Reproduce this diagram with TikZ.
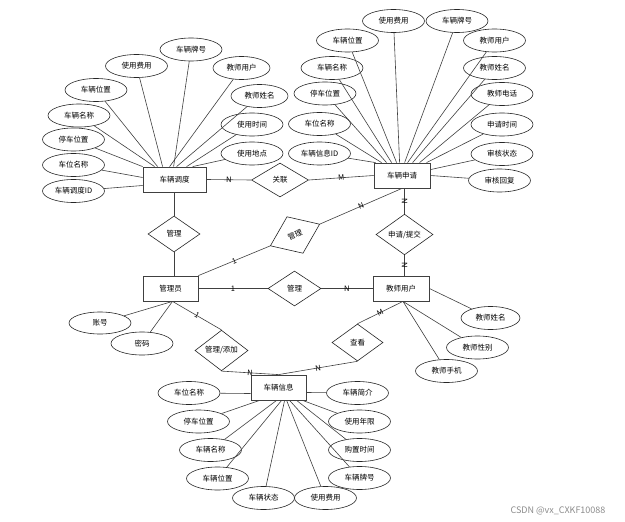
\documentclass[tikz,border=0pt]{standalone}
\usepackage{fontspec}
\newfontfamily\cjk{Noto Sans CJK SC}
\usetikzlibrary{shapes.geometric,calc,shadows}
\begin{document}
\begin{tikzpicture}[x=1pt,y=-1pt,
  every node/.style={font=\cjk\fontsize{7.5}{9}\selectfont, text=black},
  ent/.style={draw=black!75, line width=0.8pt, fill=white, minimum height=25pt, inner sep=0pt,
    drop shadow={shadow xshift=1pt, shadow yshift=-1pt, fill=black!40, opacity=0.8}},
  attr/.style={ellipse, draw=black!85, line width=0.6pt, minimum width=62pt, minimum height=23pt, inner sep=0pt},
  rel/.style={diamond, draw=black!85, line width=0.6pt, inner sep=0pt},
  lnk/.style={draw=black!75, line width=0.6pt},
  card/.style={inner sep=0.5pt, sloped}
]
\fill[white] (0,0) rectangle (625,522);
\useasboundingbox (0,0) rectangle (625,522);

% entities
\node[ent, minimum width=63pt] (dd) at (174.5,179.5) {车辆调度};
\node[ent, minimum width=56pt] (sq) at (402,175.5) {车辆申请};
\node[ent, minimum width=55pt] (gly) at (170.5,288.5) {管理员};
\node[ent, minimum width=56pt] (js) at (401,288.5) {教师用户};
\node[ent, minimum width=55pt] (xx) at (278.5,387.5) {车辆信息};

% relationships
\node[rel, minimum width=57pt, minimum height=34pt] (r1) at (280,180) {关联};
\node[rel, minimum width=52pt, minimum height=36pt] (r2) at (174,234) {管理};
\node[rel, minimum width=54pt, minimum height=40pt, rotate=23.7] (r3) at (295,235) {管理};
\node[rel, minimum width=57pt, minimum height=35pt] (r4) at (404.5,234.5) {申请/提交};
\node[rel, minimum width=53pt, minimum height=35pt] (r5) at (294.5,288.5) {管理};
\node[rel, minimum width=53pt, minimum height=37pt] (r6) at (221.5,350.5) {管理/添加};
\node[rel, minimum width=51pt, minimum height=37pt] (r7) at (357.5,342.5) {查看};

\coordinate (gs) at ($(gly.south)+(2,0)$);
\coordinate (jss) at ($(js.south)+(2,0)$);

% relationship connectors
\draw[lnk] (dd.east) -- node[card]{N} (r1.west);
\draw[lnk] (r1.east) -- node[card]{M} (sq.west);
\draw[lnk] (dd.south -| r2.north) -- (r2.north);
\draw[lnk] (r2.south) -- (r2.south |- gly.north);
\draw[lnk] (gly.north east) -- node[card]{1} (r3.west);
\draw[lnk] (r3.east) -- node[card]{N} (sq.south);
\draw[lnk] (r4.north |- sq.south) -- node[card]{N} (r4.north);
\draw[lnk] (r4.south) -- node[card]{N} (r4.south |- js.north);
\draw[lnk] (gly.east) -- node[card]{1} (r5.west);
\draw[lnk] (r5.east) -- node[card]{N} (js.west);
\draw[lnk] (gs) -- node[card]{1} (r6.north);
\draw[lnk] (r6.south) -- node[card]{N} (xx.north);
\draw[lnk] (jss) -- node[card]{M} (r7.north);
\draw[lnk] (r7.south) -- node[card]{N} (xx.north);

% attributes of 车辆调度
\node[attr] (d1) at (191,49.5) {车辆牌号};
\node[attr] (d2) at (136.5,66) {使用费用};
\node[attr, minimum width=57pt] (d3) at (241.5,68) {教师用户};
\node[attr] (d4) at (96,90) {车辆位置};
\node[attr, minimum width=57pt] (d5) at (259.5,96) {教师姓名};
\node[attr] (d6) at (79,115.5) {车辆名称};
\node[attr] (d7) at (252,124.5) {使用时间};
\node[attr] (d8) at (73.5,139.5) {停车位置};
\node[attr] (d9) at (252,153.5) {使用地点};
\node[attr] (d10) at (73.5,165) {车位名称};
\node[attr] (d11) at (73.5,191) {车辆调度ID};
\draw[lnk] (d1) -- ($(dd.north west)+(31,0)$);
\draw[lnk] (d2) -- ($(dd.north west)+(20,0)$);
\draw[lnk] (d3) -- ($(dd.north west)+(27,0)$);
\draw[lnk] (d4) -- ($(dd.north west)+(15,0)$);
\draw[lnk] (d5) -- ($(dd.north west)+(34,0)$);
\draw[lnk] (d6) -- ($(dd.north west)+(12,0)$);
\draw[lnk] (d7) -- ($(dd.north west)+(44,0)$);
\draw[lnk] (d8) -- (dd.north west);
\draw[lnk] (d9) -- ($(dd.north west)+(50,0)$);
\draw[lnk] (d10) -- ($(dd.west)+(0,-2)$);
\draw[lnk] (d11) -- ($(dd.west)+(0,6)$);

% attributes of 车辆申请
\node[attr] (s1) at (393.5,21) {使用费用};
\node[attr] (s2) at (457,21) {车辆牌号};
\node[attr] (s3) at (347.5,40.5) {车辆位置};
\node[attr] (s4) at (494.5,40.5) {教师用户};
\node[attr] (s5) at (332,68) {车辆名称};
\node[attr] (s6) at (494.5,68) {教师姓名};
\node[attr] (s7) at (325,93.5) {停车位置};
\node[attr] (s8) at (502,94) {教师电话};
\node[attr] (s9) at (319.5,124) {车位名称};
\node[attr] (s10) at (502,124.5) {申请时间};
\node[attr] (s11) at (319.5,153.5) {车辆信息ID};
\node[attr] (s12) at (502,154) {审核状态};
\node[attr] (s13) at (499.5,180.5) {审核回复};
\draw[lnk] (s1) -- ($(sq.north west)+(26,0)$);
\draw[lnk] (s2) -- ($(sq.north west)+(31,0)$);
\draw[lnk] (s3) -- ($(sq.north west)+(23,0)$);
\draw[lnk] (s4) -- ($(sq.north west)+(34,0)$);
\draw[lnk] (s5) -- ($(sq.north west)+(18,0)$);
\draw[lnk] (s6) -- ($(sq.north west)+(39,0)$);
\draw[lnk] (s7) -- ($(sq.north west)+(13,0)$);
\draw[lnk] (s8) -- ($(sq.north west)+(46,0)$);
\draw[lnk] (s9) -- ($(sq.north west)+(8,0)$);
\draw[lnk] (s10) -- ($(sq.north west)+(53,0)$);
\draw[lnk] (s11) -- ($(sq.north west)+(2,0)$);
\draw[lnk] (s12) -- ($(sq.north east)+(0,7)$);
\draw[lnk] (s13) -- (sq.east);

% attributes of 教师用户
\node[attr, minimum width=59pt] (j1) at (490.5,318) {教师姓名};
\node[attr] (j2) at (477.5,347.5) {教师性别};
\node[attr] (j3) at (446.5,371) {教师手机};
\draw[lnk] (j1) -- (js.east);
\draw[lnk] (j2) -- (jss);
\draw[lnk] (j3) -- (jss);

% attributes of 管理员
\node[attr, minimum height=22pt] (g1) at (100,323) {账号};
\node[attr] (g2) at (142,343.5) {密码};
\draw[lnk] (g1) -- (gs);
\draw[lnk] (g2) -- (gs);

% attributes of 车辆信息
\node[attr] (x1) at (189,393) {车位名称};
\node[attr] (x2) at (357.5,393) {车辆简介};
\node[attr] (x3) at (198.5,421.5) {停车位置};
\node[attr] (x4) at (359.5,421.5) {使用年限};
\node[attr] (x5) at (210.5,450) {车辆名称};
\node[attr] (x6) at (359.5,450) {购置时间};
\node[attr] (x7) at (217.5,478.5) {车辆位置};
\node[attr] (x8) at (359.5,478) {车辆牌号};
\node[attr] (x9) at (263.5,498) {车辆状态};
\node[attr] (x10) at (325.5,498) {使用费用};
\draw[lnk] (x1) -- ($(xx.west)+(0,6)$);
\draw[lnk] (x2) -- ($(xx.east)+(0,5)$);
\draw[lnk] (x3) -- ($(xx.south west)+(9,0)$);
\draw[lnk] (x4) -- ($(xx.south west)+(52,0)$);
\draw[lnk] (x5) -- ($(xx.south west)+(26,0)$);
\draw[lnk] (x6) -- ($(xx.south west)+(46,0)$);
\draw[lnk] (x7) -- ($(xx.south west)+(31,0)$);
\draw[lnk] (x8) -- ($(xx.south west)+(39,0)$);
\draw[lnk] (x9) -- ($(xx.south west)+(34,0)$);
\draw[lnk] (x10) -- ($(xx.south west)+(36,0)$);

% watermark
\node[font=\cjk\fontsize{9}{10}\selectfont, text=black!45] (wm) at (558,511) {CSDN @vx\_CXKF10088};
\end{tikzpicture}
\end{document}
